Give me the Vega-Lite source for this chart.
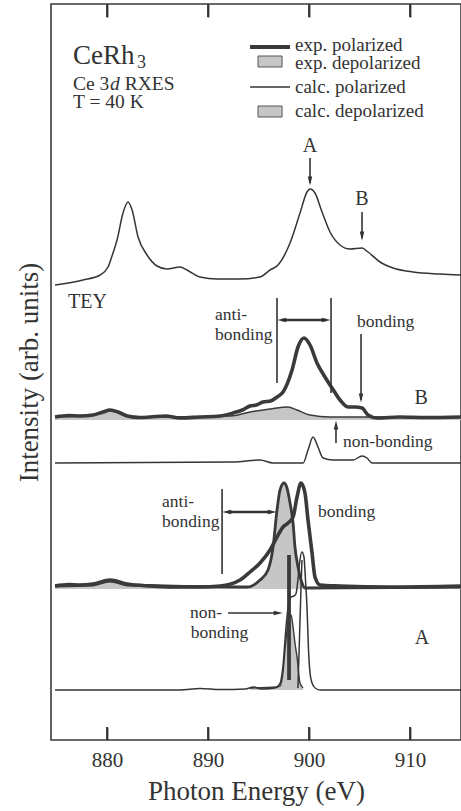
{
  "$schema": "https://vega.github.io/schema/vega-lite/v6.json",
  "width": 410,
  "height": 736,
  "autosize": {"type": "none"},
  "padding": {"left": 51, "top": 4, "right": 0, "bottom": 71},
  "background": "white",
  "config": {
    "view": {"stroke": "#3a3a3a", "strokeWidth": 1.6},
    "font": "Liberation Serif",
    "text": {"font": "Liberation Serif", "color": "#333333"}
  },
  "datasets": {
    "curves": [
      {"s": "tey", "x": 874.85, "y": 455}, {"s": "tey", "x": 877.62, "y": 460}, {"s": "tey", "x": 879.31, "y": 465},
      {"s": "tey", "x": 880.10, "y": 473}, {"s": "tey", "x": 880.59, "y": 487}, {"s": "tey", "x": 880.99, "y": 500},
      {"s": "tey", "x": 881.58, "y": 527}, {"s": "tey", "x": 882.08, "y": 538}, {"s": "tey", "x": 882.48, "y": 530},
      {"s": "tey", "x": 883.07, "y": 503}, {"s": "tey", "x": 883.96, "y": 485}, {"s": "tey", "x": 884.95, "y": 474},
      {"s": "tey", "x": 885.94, "y": 471}, {"s": "tey", "x": 887.23, "y": 473}, {"s": "tey", "x": 887.92, "y": 470},
      {"s": "tey", "x": 889.21, "y": 463}, {"s": "tey", "x": 890.89, "y": 461}, {"s": "tey", "x": 893.17, "y": 461},
      {"s": "tey", "x": 895.15, "y": 463}, {"s": "tey", "x": 896.14, "y": 470}, {"s": "tey", "x": 896.93, "y": 475},
      {"s": "tey", "x": 898.12, "y": 497}, {"s": "tey", "x": 899.11, "y": 527}, {"s": "tey", "x": 899.80, "y": 548},
      {"s": "tey", "x": 900.10, "y": 551}, {"s": "tey", "x": 900.59, "y": 547}, {"s": "tey", "x": 901.29, "y": 528},
      {"s": "tey", "x": 902.08, "y": 508}, {"s": "tey", "x": 903.07, "y": 495}, {"s": "tey", "x": 904.06, "y": 491},
      {"s": "tey", "x": 905.25, "y": 492}, {"s": "tey", "x": 905.84, "y": 488}, {"s": "tey", "x": 907.03, "y": 478},
      {"s": "tey", "x": 908.32, "y": 472}, {"s": "tey", "x": 910.30, "y": 468}, {"s": "tey", "x": 912.97, "y": 466},
      {"s": "tey", "x": 915.05, "y": 465},

      {"s": "calcB", "x": 874.85, "y": 277}, {"s": "calcB", "x": 892.48, "y": 278}, {"s": "calcB", "x": 895.15, "y": 280},
      {"s": "calcB", "x": 896.44, "y": 277}, {"s": "calcB", "x": 899.41, "y": 277}, {"s": "calcB", "x": 899.90, "y": 290},
      {"s": "calcB", "x": 900.40, "y": 303}, {"s": "calcB", "x": 900.89, "y": 293}, {"s": "calcB", "x": 901.39, "y": 282},
      {"s": "calcB", "x": 902.38, "y": 280}, {"s": "calcB", "x": 904.36, "y": 280}, {"s": "calcB", "x": 905.25, "y": 284},
      {"s": "calcB", "x": 905.74, "y": 282}, {"s": "calcB", "x": 906.24, "y": 277}, {"s": "calcB", "x": 915.05, "y": 277},

      {"s": "calcA", "x": 874.85, "y": 50}, {"s": "calcA", "x": 887.2, "y": 50}, {"s": "calcA", "x": 889.2, "y": 51.5},
      {"s": "calcA", "x": 891.2, "y": 50.5}, {"s": "calcA", "x": 893.7, "y": 51}, {"s": "calcA", "x": 894.5, "y": 53},
      {"s": "calcA", "x": 895.3, "y": 51}, {"s": "calcA", "x": 896.6, "y": 52}, {"s": "calcA", "x": 897.1, "y": 56},
      {"s": "calcA", "x": 897.43, "y": 75}, {"s": "calcA", "x": 897.7, "y": 110}, {"s": "calcA", "x": 898.0, "y": 138},
      {"s": "calcA", "x": 898.2, "y": 143}, {"s": "calcA", "x": 898.5, "y": 144}, {"s": "calcA", "x": 898.7, "y": 146},
      {"s": "calcA", "x": 898.9, "y": 160}, {"s": "calcA", "x": 899.1, "y": 180}, {"s": "calcA", "x": 899.3, "y": 188},
      {"s": "calcA", "x": 899.5, "y": 183}, {"s": "calcA", "x": 899.65, "y": 160}, {"s": "calcA", "x": 899.8, "y": 133},
      {"s": "calcA", "x": 899.95, "y": 90}, {"s": "calcA", "x": 900.1, "y": 67}, {"s": "calcA", "x": 900.3, "y": 57},
      {"s": "calcA", "x": 900.6, "y": 52}, {"s": "calcA", "x": 901.1, "y": 50}, {"s": "calcA", "x": 915.05, "y": 50},

      {"s": "calcAc", "x": 898.9, "y": 52}, {"s": "calcAc", "x": 899.05, "y": 100}, {"s": "calcAc", "x": 899.2, "y": 150},
      {"s": "calcAc", "x": 899.3, "y": 180},

      {"s": "expB", "x": 874.85, "y": 323}, {"s": "expB", "x": 876.2, "y": 324.5}, {"s": "expB", "x": 877.3, "y": 324}, {"s": "expB", "x": 878.6, "y": 325},
      {"s": "expB", "x": 879.6, "y": 328}, {"s": "expB", "x": 880.3, "y": 330}, {"s": "expB", "x": 881.1, "y": 328},
      {"s": "expB", "x": 882.0, "y": 324}, {"s": "expB", "x": 883.2, "y": 322.5}, {"s": "expB", "x": 884.26, "y": 323}, {"s": "expB", "x": 885.8, "y": 324}, {"s": "expB", "x": 887.23, "y": 322},
      {"s": "expB", "x": 889.21, "y": 323}, {"s": "expB", "x": 891.19, "y": 324}, {"s": "expB", "x": 892.48, "y": 327},
      {"s": "expB", "x": 893.4, "y": 330}, {"s": "expB", "x": 894.16, "y": 334}, {"s": "expB", "x": 894.8, "y": 335}, {"s": "expB", "x": 895.45, "y": 338}, {"s": "expB", "x": 896.2, "y": 339}, {"s": "expB", "x": 896.83, "y": 343},
      {"s": "expB", "x": 897.43, "y": 348}, {"s": "expB", "x": 898.32, "y": 370}, {"s": "expB", "x": 898.91, "y": 393},
      {"s": "expB", "x": 899.50, "y": 402}, {"s": "expB", "x": 900.10, "y": 395}, {"s": "expB", "x": 900.79, "y": 377},
      {"s": "expB", "x": 901.58, "y": 363}, {"s": "expB", "x": 902.28, "y": 352}, {"s": "expB", "x": 903.07, "y": 340},
      {"s": "expB", "x": 903.86, "y": 333}, {"s": "expB", "x": 904.55, "y": 333}, {"s": "expB", "x": 905.25, "y": 332},
      {"s": "expB", "x": 905.84, "y": 325}, {"s": "expB", "x": 906.73, "y": 322}, {"s": "expB", "x": 909.0, "y": 323},
      {"s": "expB", "x": 911.5, "y": 322.5}, {"s": "expB", "x": 915.05, "y": 323},

      {"s": "expA", "x": 874.85, "y": 154}, {"s": "expA", "x": 876.2, "y": 155.5}, {"s": "expA", "x": 877.3, "y": 155}, {"s": "expA", "x": 878.6, "y": 156},
      {"s": "expA", "x": 880.3, "y": 160}, {"s": "expA", "x": 882.0, "y": 156}, {"s": "expA", "x": 884.26, "y": 154},
      {"s": "expA", "x": 886.5, "y": 153}, {"s": "expA", "x": 889.21, "y": 153}, {"s": "expA", "x": 891.19, "y": 154}, {"s": "expA", "x": 893.17, "y": 160},
      {"s": "expA", "x": 894.16, "y": 168}, {"s": "expA", "x": 895.15, "y": 177}, {"s": "expA", "x": 896.14, "y": 190},
      {"s": "expA", "x": 896.83, "y": 203}, {"s": "expA", "x": 897.43, "y": 213}, {"s": "expA", "x": 897.92, "y": 217},
      {"s": "expA", "x": 898.42, "y": 223}, {"s": "expA", "x": 898.81, "y": 243}, {"s": "expA", "x": 899.21, "y": 257},
      {"s": "expA", "x": 899.60, "y": 247}, {"s": "expA", "x": 899.90, "y": 220}, {"s": "expA", "x": 900.30, "y": 187},
      {"s": "expA", "x": 900.59, "y": 163}, {"s": "expA", "x": 901.09, "y": 155}, {"s": "expA", "x": 903.07, "y": 154},
      {"s": "expA", "x": 908.0, "y": 153}, {"s": "expA", "x": 915.05, "y": 154}
    ],
    "areas": [
      {"s": "expBd", "x": 874.85, "y": 323, "b": 320}, {"s": "expBd", "x": 878.6, "y": 325, "b": 320},
      {"s": "expBd", "x": 880.3, "y": 330, "b": 320}, {"s": "expBd", "x": 882.0, "y": 324, "b": 320},
      {"s": "expBd", "x": 884.26, "y": 323, "b": 320}, {"s": "expBd", "x": 892.18, "y": 324, "b": 320},
      {"s": "expBd", "x": 894.16, "y": 328, "b": 320}, {"s": "expBd", "x": 896.14, "y": 331, "b": 320},
      {"s": "expBd", "x": 897.92, "y": 333, "b": 320}, {"s": "expBd", "x": 898.81, "y": 330, "b": 320},
      {"s": "expBd", "x": 900.10, "y": 325, "b": 320}, {"s": "expBd", "x": 902.08, "y": 323, "b": 320},
      {"s": "expBd", "x": 915.05, "y": 323, "b": 320},

      {"s": "expAd", "x": 874.85, "y": 154, "b": 151}, {"s": "expAd", "x": 878.6, "y": 155, "b": 151},
      {"s": "expAd", "x": 880.3, "y": 159, "b": 151}, {"s": "expAd", "x": 882.0, "y": 155, "b": 151},
      {"s": "expAd", "x": 893.17, "y": 153, "b": 151}, {"s": "expAd", "x": 893.86, "y": 153, "b": 151},
      {"s": "expAd", "x": 895.15, "y": 160, "b": 151}, {"s": "expAd", "x": 895.94, "y": 170, "b": 151},
      {"s": "expAd", "x": 896.44, "y": 193, "b": 151}, {"s": "expAd", "x": 896.83, "y": 230, "b": 151},
      {"s": "expAd", "x": 897.13, "y": 250, "b": 151}, {"s": "expAd", "x": 897.52, "y": 257, "b": 151},
      {"s": "expAd", "x": 897.82, "y": 252, "b": 151}, {"s": "expAd", "x": 898.12, "y": 237, "b": 151},
      {"s": "expAd", "x": 898.42, "y": 217, "b": 151}, {"s": "expAd", "x": 898.61, "y": 193, "b": 151},
      {"s": "expAd", "x": 898.91, "y": 173, "b": 151}, {"s": "expAd", "x": 899.31, "y": 157, "b": 151},
      {"s": "expAd", "x": 899.60, "y": 152, "b": 151}, {"s": "expAd", "x": 915.05, "y": 153, "b": 151},

      {"s": "calcAd", "x": 894.16, "y": 52, "b": 50}, {"s": "calcAd", "x": 896.83, "y": 53, "b": 50},
      {"s": "calcAd", "x": 897.13, "y": 54, "b": 50}, {"s": "calcAd", "x": 897.43, "y": 68, "b": 50},
      {"s": "calcAd", "x": 897.62, "y": 90, "b": 50}, {"s": "calcAd", "x": 897.92, "y": 117, "b": 50},
      {"s": "calcAd", "x": 898.22, "y": 125, "b": 50}, {"s": "calcAd", "x": 898.42, "y": 113, "b": 50},
      {"s": "calcAd", "x": 898.61, "y": 97, "b": 50}, {"s": "calcAd", "x": 898.81, "y": 83, "b": 50},
      {"s": "calcAd", "x": 899.11, "y": 57, "b": 50}, {"s": "calcAd", "x": 899.41, "y": 52, "b": 50}
    ],
    "segs": [
      {"k": "thin", "x": 900.1, "x2": 900.1, "y": 582, "y2": 557},
      {"k": "thin", "x": 905.25, "x2": 905.25, "y": 528, "y2": 502},
      {"k": "thin", "x": 896.83, "x2": 896.83, "y": 442, "y2": 357},
      {"k": "thin", "x": 902.18, "x2": 902.18, "y": 442, "y2": 347},
      {"k": "thin", "x": 905.15, "x2": 905.15, "y": 406, "y2": 340},
      {"k": "thin", "x": 902.67, "x2": 902.67, "y": 297, "y2": 316},
      {"k": "thin", "x": 891.39, "x2": 891.39, "y": 251, "y2": 166},
      {"k": "thin", "x": 891.98, "x2": 897.0, "y": 127, "y2": 127},
      {"k": "thick", "x": 897.3, "x2": 901.7, "y": 420, "y2": 420},
      {"k": "thick", "x": 891.9, "x2": 896.3, "y": 228, "y2": 228},
      {"k": "bar", "x": 898.02, "x2": 898.02, "y": 60, "y2": 185},
      {"k": "legthick", "x": 894.16, "x2": 898.12, "y": 693, "y2": 693},
      {"k": "legthin", "x": 894.16, "x2": 898.12, "y": 653, "y2": 653},
      {"k": "tick", "x": 880, "x2": 880, "y": 0, "y2": 13}, {"k": "tick", "x": 890, "x2": 890, "y": 0, "y2": 13},
      {"k": "tick", "x": 900, "x2": 900, "y": 0, "y2": 13}, {"k": "tick", "x": 910, "x2": 910, "y": 0, "y2": 13},
      {"k": "tick", "x": 880, "x2": 880, "y": 723, "y2": 736}, {"k": "tick", "x": 890, "x2": 890, "y": 723, "y2": 736},
      {"k": "tick", "x": 900, "x2": 900, "y": 723, "y2": 736}, {"k": "tick", "x": 910, "x2": 910, "y": 723, "y2": 736}
    ],
    "boxes": [
      {"x": 894.95, "x2": 897.33, "y": 673, "y2": 684},
      {"x": 894.95, "x2": 897.33, "y": 623, "y2": 634}
    ],
    "heads": [
      {"dir": "down", "x": 900.1, "y": 559},
      {"dir": "down", "x": 905.25, "y": 504},
      {"dir": "down", "x": 905.15, "y": 342},
      {"dir": "up", "x": 902.67, "y": 315},
      {"dir": "left", "x": 897.3, "y": 420},
      {"dir": "right", "x": 901.7, "y": 420},
      {"dir": "left", "x": 891.86, "y": 228},
      {"dir": "right", "x": 896.35, "y": 228},
      {"dir": "right", "x": 896.95, "y": 127}
    ],
    "texts": [
      {"g": "note", "t": "anti-", "x": 890.7, "y": 425},
      {"g": "note", "t": "bonding", "x": 890.7, "y": 405},
      {"g": "note", "t": "bonding", "x": 904.75, "y": 418},
      {"g": "note", "t": "non-bonding", "x": 903.37, "y": 298},
      {"g": "note", "t": "anti-", "x": 885.45, "y": 238},
      {"g": "note", "t": "bonding", "x": 885.45, "y": 218},
      {"g": "note", "t": "bonding", "x": 900.89, "y": 228},
      {"g": "note", "t": "non-", "x": 888.22, "y": 127},
      {"g": "note", "t": "bonding", "x": 888.3, "y": 107},
      {"g": "letter", "t": "A", "x": 900.1, "y": 594},
      {"g": "letter", "t": "B", "x": 905.25, "y": 541},
      {"g": "letter", "t": "B", "x": 911.1, "y": 342},
      {"g": "letter", "t": "A", "x": 911.19, "y": 102},
      {"g": "letter", "t": "TEY", "x": 878.07, "y": 438},
      {"g": "big", "t": "CeRh", "x": 876.63, "y": 676},
      {"g": "sub", "t": "3", "x": 882.97, "y": 672},
      {"g": "head", "t": "Ce 3", "x": 876.63, "y": 650},
      {"g": "headit", "t": "d", "x": 880.3, "y": 650},
      {"g": "head", "t": "RXES", "x": 881.75, "y": 650},
      {"g": "head", "t": "T = 40 K", "x": 876.63, "y": 632.5},
      {"g": "leg", "t": "exp. polarized", "x": 898.61, "y": 689},
      {"g": "leg", "t": "exp. depolarized", "x": 898.61, "y": 671.5},
      {"g": "leg", "t": "calc. polarized", "x": 898.61, "y": 647},
      {"g": "leg", "t": "calc. depolarized", "x": 898.61, "y": 623}
    ]
  },
  "encoding": {
    "x": {"field": "x", "type": "quantitative", "scale": {"domain": [874.45, 915.05], "nice": false, "zero": false}, "axis": null},
    "y": {"field": "y", "type": "quantitative", "scale": {"domain": [0, 736], "nice": false, "zero": false},
      "axis": {"title": "Intensity (arb. units)", "labels": false, "ticks": false, "domain": false, "grid": false,
        "titleFont": "Liberation Serif", "titleFontSize": 27, "titleFontWeight": "normal", "titleColor": "#333333", "titlePadding": 8}}
  },
  "layer": [
    {
      "data": {"name": "areas"},
      "mark": {"type": "area", "fill": "#c6c6c6", "opacity": 1, "interpolate": "monotone"},
      "encoding": {
        "y2": {"field": "b"},
        "detail": {"field": "s"}
      }
    },
    {
      "data": {"name": "areas"},
      "transform": [{"filter": "datum.s === 'expAd'"}],
      "mark": {"type": "line", "stroke": "#3a3a3a", "strokeWidth": 2.8, "interpolate": "monotone"},
      "encoding": {"detail": {"field": "s"}}
    },
    {
      "data": {"name": "areas"},
      "transform": [{"filter": "datum.s !== 'expAd'"}],
      "mark": {"type": "line", "stroke": "#3a3a3a", "strokeWidth": 1.4, "interpolate": "monotone"},
      "encoding": {"detail": {"field": "s"}}
    },
    {
      "data": {"name": "curves"},
      "transform": [{"filter": "datum.s !== 'expA' && datum.s !== 'expB'"}],
      "mark": {"type": "line", "stroke": "#353535", "strokeWidth": 1.5, "interpolate": "monotone"},
      "encoding": {
        "x": {"field": "x", "type": "quantitative", "scale": {"domain": [874.45, 915.05], "nice": false, "zero": false},
          "axis": {"orient": "bottom", "offset": -13, "zindex": 1, "values": [880, 890, 900, 910], "grid": false, "domain": false,
            "tickSize": 13, "tickWidth": 1.8, "tickColor": "#333333", "labelPadding": 9,
            "labelFont": "Liberation Serif", "labelFontSize": 21, "labelColor": "#333333",
            "title": "Photon Energy (eV)", "titleFont": "Liberation Serif", "titleFontSize": 27, "titleFontWeight": "normal",
            "titleColor": "#333333", "titlePadding": 8}},
        "detail": {"field": "s"}
      }
    },
    {
      "data": {"name": "curves"},
      "transform": [{"filter": "datum.s === 'expA' || datum.s === 'expB'"}],
      "mark": {"type": "line", "stroke": "#3a3a3a", "strokeWidth": 3.6, "strokeJoin": "round", "interpolate": "monotone"},
      "encoding": {
        "x": {"field": "x", "type": "quantitative", "scale": {"domain": [874.45, 915.05], "nice": false, "zero": false},
          "axis": {"orient": "top", "offset": -13, "zindex": 1, "values": [880, 890, 900, 910], "grid": false, "domain": false, "labels": false,
            "tickSize": 13, "tickWidth": 1.8, "tickColor": "#333333", "title": null}},
        "detail": {"field": "s"}
      }
    },
    {
      "data": {"name": "segs"},
      "transform": [{"filter": "datum.k === 'thin'"}],
      "mark": {"type": "rule", "stroke": "#333333", "strokeWidth": 1.6},
      "encoding": {"x2": {"field": "x2"}, "y2": {"field": "y2"}}
    },
    {
      "data": {"name": "segs"},
      "transform": [{"filter": "datum.k === 'tick'"}],
      "mark": {"type": "rule", "stroke": "#333333", "strokeWidth": 1.8},
      "encoding": {"x2": {"field": "x2"}, "y2": {"field": "y2"}}
    },
    {
      "data": {"name": "segs"},
      "transform": [{"filter": "datum.k === 'thick'"}],
      "mark": {"type": "rule", "stroke": "#333333", "strokeWidth": 2.6},
      "encoding": {"x2": {"field": "x2"}, "y2": {"field": "y2"}}
    },
    {
      "data": {"name": "segs"},
      "transform": [{"filter": "datum.k === 'bar' || datum.k === 'legthick'"}],
      "mark": {"type": "rule", "stroke": "#3a3a3a", "strokeWidth": 3.8},
      "encoding": {"x2": {"field": "x2"}, "y2": {"field": "y2"}}
    },
    {
      "data": {"name": "segs"},
      "transform": [{"filter": "datum.k === 'legthin'"}],
      "mark": {"type": "rule", "stroke": "#353535", "strokeWidth": 1.5},
      "encoding": {"x2": {"field": "x2"}, "y2": {"field": "y2"}}
    },
    {
      "data": {"name": "boxes"},
      "mark": {"type": "rect", "fill": "#c6c6c6", "stroke": "#555555", "strokeWidth": 1},
      "encoding": {"x2": {"field": "x2"}, "y2": {"field": "y2"}}
    },
    {
      "data": {"name": "heads"},
      "transform": [{"filter": "datum.dir === 'down'"}],
      "mark": {"type": "point", "shape": "M0,1L-0.5,-1L0.5,-1Z", "size": 81, "filled": true, "fill": "#333333", "stroke": null, "opacity": 1, "angle": 0},
      "encoding": {}
    },
    {
      "data": {"name": "heads"},
      "transform": [{"filter": "datum.dir === 'up'"}],
      "mark": {"type": "point", "shape": "M0,1L-0.5,-1L0.5,-1Z", "size": 81, "filled": true, "fill": "#333333", "stroke": null, "opacity": 1, "angle": 180},
      "encoding": {}
    },
    {
      "data": {"name": "heads"},
      "transform": [{"filter": "datum.dir === 'left'"}],
      "mark": {"type": "point", "shape": "M0,1L-0.5,-1L0.5,-1Z", "size": 81, "filled": true, "fill": "#333333", "stroke": null, "opacity": 1, "angle": 90},
      "encoding": {}
    },
    {
      "data": {"name": "heads"},
      "transform": [{"filter": "datum.dir === 'right'"}],
      "mark": {"type": "point", "shape": "M0,1L-0.5,-1L0.5,-1Z", "size": 81, "filled": true, "fill": "#333333", "stroke": null, "opacity": 1, "angle": 270},
      "encoding": {}
    },
    {
      "data": {"name": "texts"},
      "transform": [{"filter": "datum.g === 'note'"}],
      "mark": {"type": "text", "font": "Liberation Serif", "fontSize": 17.5, "align": "left", "baseline": "middle", "color": "#333333"},
      "encoding": {"text": {"field": "t"}}
    },
    {
      "data": {"name": "texts"},
      "transform": [{"filter": "datum.g === 'letter'"}],
      "mark": {"type": "text", "font": "Liberation Serif", "fontSize": 20, "align": "center", "baseline": "middle", "color": "#333333"},
      "encoding": {"text": {"field": "t"}}
    },
    {
      "data": {"name": "texts"},
      "transform": [{"filter": "datum.g === 'big'"}],
      "mark": {"type": "text", "font": "Liberation Serif", "fontSize": 27, "align": "left", "baseline": "alphabetic", "color": "#333333"},
      "encoding": {"text": {"field": "t"}}
    },
    {
      "data": {"name": "texts"},
      "transform": [{"filter": "datum.g === 'sub'"}],
      "mark": {"type": "text", "font": "Liberation Serif", "fontSize": 18, "align": "left", "baseline": "alphabetic", "color": "#333333"},
      "encoding": {"text": {"field": "t"}}
    },
    {
      "data": {"name": "texts"},
      "transform": [{"filter": "datum.g === 'head'"}],
      "mark": {"type": "text", "font": "Liberation Serif", "fontSize": 19.5, "align": "left", "baseline": "alphabetic", "color": "#333333"},
      "encoding": {"text": {"field": "t"}}
    },
    {
      "data": {"name": "texts"},
      "transform": [{"filter": "datum.g === 'headit'"}],
      "mark": {"type": "text", "font": "Liberation Serif", "fontSize": 19.5, "fontStyle": "italic", "align": "left", "baseline": "alphabetic", "color": "#333333"},
      "encoding": {"text": {"field": "t"}}
    },
    {
      "data": {"name": "texts"},
      "transform": [{"filter": "datum.g === 'leg'"}],
      "mark": {"type": "text", "font": "Liberation Serif", "fontSize": 19, "align": "left", "baseline": "alphabetic", "color": "#333333"},
      "encoding": {"text": {"field": "t"}}
    }
  ],
  "resolve": {"axis": {"x": "independent"}}
}
